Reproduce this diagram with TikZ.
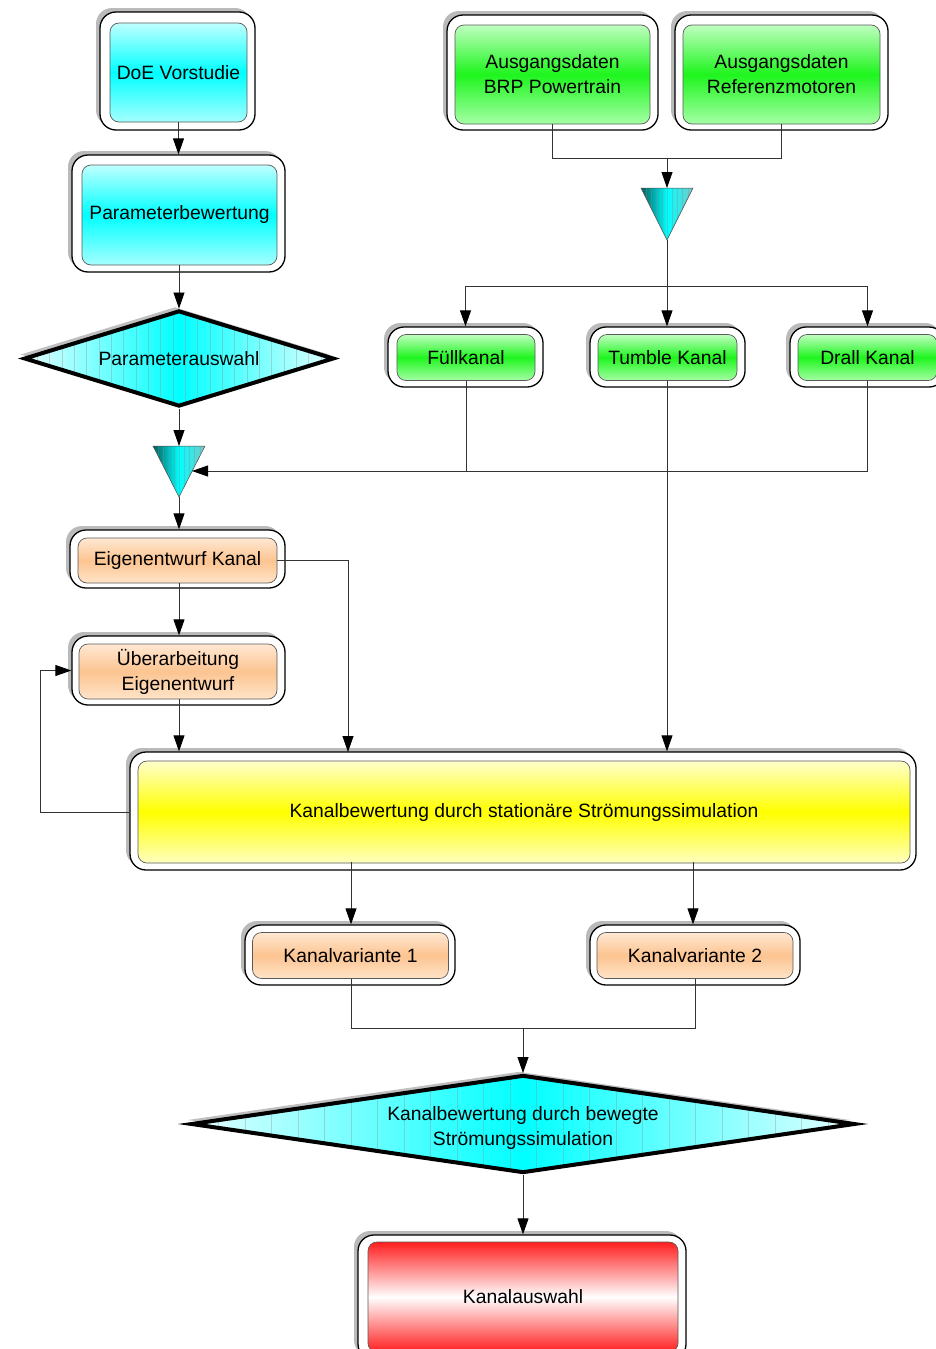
\documentclass[tikz,border=0pt]{standalone}
\usepackage{fontspec}
\setmainfont{Liberation Sans}
\usetikzlibrary{arrows.meta,shapes.geometric,shadows,calc}
\begin{document}
\begin{tikzpicture}[x=1pt,y=-1pt,
  outerbox/.style={draw=black, line width=1.3pt, fill=white, rounded corners=16pt, inner sep=0pt,
    drop shadow={shadow xshift=-4pt, shadow yshift=4pt, fill=black!45, opacity=.6}},
  inbox/.style={draw=black!65, line width=.7pt, rounded corners=9pt, inner sep=0pt, align=center,
    font=\fontsize{19.3}{25}\selectfont},
  cyanfill/.style={top color=cyan!25, bottom color=cyan!35, middle color=cyan},
  greenfill/.style={top color=green!25, bottom color=green!35, middle color={rgb,255:red,30;green,245;blue,30}},
  peachfill/.style={top color={rgb,255:red,255;green,232;blue,210}, bottom color={rgb,255:red,255;green,228;blue,200}, middle color={rgb,255:red,252;green,196;blue,145}},
  yellowfill/.style={top color=yellow!20, bottom color=yellow!25, middle color=yellow},
  redfill/.style={top color={rgb,255:red,255;green,30;blue,30}, bottom color={rgb,255:red,255;green,30;blue,30}, middle color=white},
  vstripes/.style={path picture={\foreach \f in {#1}{\draw[black!45, opacity=.35, line width=.5pt] ($(path picture bounding box.north west)!\f!(path picture bounding box.north east)$) -- ($(path picture bounding box.south west)!\f!(path picture bounding box.south east)$);}}},
  dia/.style={diamond, draw=black, line width=4pt, inner sep=0pt, align=center,
    font=\fontsize{19.3}{25}\selectfont, left color=cyan!10, right color=cyan!10, middle color=cyan,
    drop shadow={shadow xshift=-4pt, shadow yshift=4pt, fill=black!50, opacity=.5},
    vstripes={0.04,0.08,...,0.97}},
  diatext/.style={align=center, inner sep=0pt, font=\fontsize{19.3}{25}\selectfont},
  tri/.style={draw=black!70, line width=.5pt, left color={rgb,255:red,0;green,95;blue,95}, right color={rgb,255:red,120;green,200;blue,200}, middle color=cyan,
    vstripes={0.1,0.2,...,0.91}},
  con/.style={draw=black!80, line width=.8pt},
  arr/.style={con, -{Triangle[length=16pt,width=11pt,color=black,fill=black]}}
]
\useasboundingbox (0,0) rectangle (935,1349);

% left column
\node[outerbox, minimum width=155, minimum height=118] (doeo) at (177.5,71) {};
\node[inbox, cyanfill, minimum width=137, minimum height=99] (doe) at (178.5,72.5) {DoE Vorstudie};
\node[outerbox, minimum width=213, minimum height=117] (paro) at (178.5,213.5) {};
\node[inbox, cyanfill, minimum width=195, minimum height=100] (par) at (179.5,215) {Parameterbewertung};
\node[dia, aspect=3.26, minimum width=310, minimum height=96] (d1) at (179,358.5) {};
\node[diatext] (d1t) at (179,359) {Parameterauswahl};

\path[tri] (153,446) -- (205,446) -- (179,497) -- cycle;
\coordinate (t1top) at (179,446);
\coordinate (t1tip) at (179,497);
\coordinate (t1side) at (192,471);

\node[outerbox, minimum width=215, minimum height=58] (eigo) at (177.5,559) {};
\node[inbox, peachfill, minimum width=199, minimum height=45] (eig) at (177.5,560.5) {Eigenentwurf Kanal};
\node[outerbox, minimum width=213, minimum height=69] (ubero) at (178.5,670.5) {};
\node[inbox, peachfill, minimum width=198, minimum height=55] (uber) at (178,671.5) {Überarbeitung\\Eigenentwurf};

% right top
\node[outerbox, minimum width=211, minimum height=115] (brpo) at (552.5,72.5) {};
\node[inbox, greenfill, minimum width=195, minimum height=99] (brp) at (552.5,74.5) {Ausgangsdaten\\BRP Powertrain};
\node[outerbox, minimum width=213, minimum height=115] (refo) at (781.5,72.5) {};
\node[inbox, greenfill, minimum width=197, minimum height=99] (ref) at (781.5,74.5) {Ausgangsdaten\\Referenzmotoren};

\path[tri] (641,188) -- (693,188) -- (667,240) -- cycle;
\coordinate (t2top) at (667,188);
\coordinate (t2tip) at (667,240);

\node[outerbox, minimum width=155, minimum height=60] (fuelo) at (465.5,357) {};
\node[inbox, greenfill, minimum width=138, minimum height=46] (fuel) at (466,357.5) {Füllkanal};
\node[outerbox, minimum width=155, minimum height=60] (tumo) at (667.5,357) {};
\node[inbox, greenfill, minimum width=139, minimum height=46] (tum) at (667.5,357.5) {Tumble Kanal};
\node[outerbox, minimum width=155, minimum height=60] (dralo) at (867.5,357) {};
\node[inbox, greenfill, minimum width=139, minimum height=46] (dral) at (867.5,357.5) {Drall Kanal};

% yellow
\node[outerbox, minimum width=786, minimum height=118] (yelo) at (523,811) {};
\node[inbox, yellowfill, minimum width=772, minimum height=102] (yel) at (524,812) {Kanalbewertung durch stationäre Strömungssimulation};

\node[outerbox, minimum width=210, minimum height=60] (kv1o) at (350,955) {};
\node[inbox, peachfill, minimum width=196, minimum height=46] (kv1) at (350.5,955.5) {Kanalvariante 1};
\node[outerbox, minimum width=210, minimum height=60] (kv2o) at (695,955) {};
\node[inbox, peachfill, minimum width=196, minimum height=46] (kv2) at (695,955.5) {Kanalvariante 2};

\node[dia, aspect=6.9, minimum width=664, minimum height=98] (d2) at (523,1124) {};
\node[diatext] (d2t) at (523,1128) {Kanalbewertung durch bewegte\\Strömungssimulation};

\node[outerbox, minimum width=328, minimum height=125] (kao) at (522,1297.5) {};
\node[inbox, redfill, minimum width=310, minimum height=110] (ka) at (523,1297) {Kanalauswahl};

% connectors left
\draw[arr] (doe.south) -- (doe.south |- paro.north);
\draw[arr] (par.south -| d1.north) -- (d1.north);
\draw[arr] (d1.south) -- (t1top);
\draw[arr] (t1tip) -- (t1tip |- eigo.north);
\draw[arr] (t1tip |- eig.south) -- (t1tip |- ubero.north);
\draw[arr] (t1tip |- uber.south) -- (t1tip |- yelo.north);
\coordinate (e1) at (348,752);
\draw[arr] (eig.east) -| (e1);
\coordinate (fb) at (40,812);
\draw[arr] (yelo.west |- fb) -- (fb) |- (ubero.west);

% connectors right
\coordinate (m1) at (667,158);
\draw[con] (brp.south) |- (m1);
\draw[con] (ref.south) |- (m1);
\draw[arr] (m1) -- (t2top);
\coordinate (s1) at (667,286);
\draw[con] (t2tip) -- (s1);
\draw[arr] (s1) -| (fuelo.north);
\draw[arr] (s1) -- (s1 |- tumo.north);
\draw[arr] (s1) -| (dralo.north);
\draw[con] (fuel.south) -- (fuel.south |- t1side);
\draw[arr] (dral.south) |- (t1side);
\draw[arr] (tum.south -| s1) -- (s1 |- yelo.north);

% bottom
\coordinate (k1) at (351,862);
\coordinate (k2) at (693,862);
\draw[arr] (k1) -- (k1 |- kv1o.north);
\draw[arr] (k2) -- (k2 |- kv2o.north);
\coordinate (m2) at (523,1028);
\draw[con] (kv1.south -| k1) |- (m2);
\draw[con] (kv2.south -| kv2o.north) |- (m2);
\draw[arr] (m2) -- (d2.north);
\draw[arr] (d2.south) -- (d2.south |- kao.north);
\end{tikzpicture}
\end{document}
